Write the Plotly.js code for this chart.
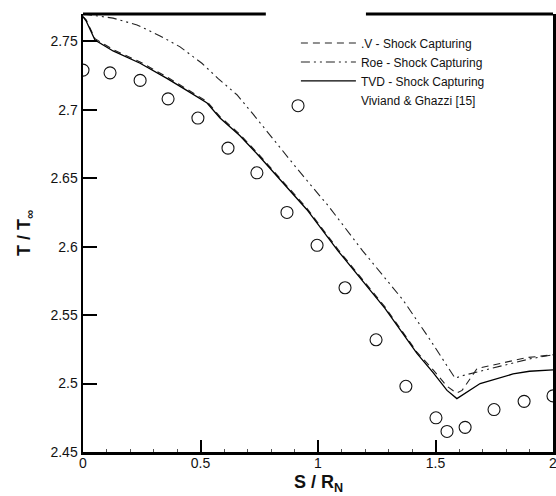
<!DOCTYPE html>
<html>
<head>
<meta charset="utf-8">
<script src="https://cdn.plot.ly/plotly-3.0.1.min.js"></script>
<style>html,body{margin:0;padding:0;background:#fff;}#chart{width:556px;height:496px;}</style>
</head>
<body>
<div id="chart"></div>
<script>
// Dashed series (legend text partly obscured in reference)
const dashX = [0, 0.013, 0.051, 0.128, 0.243, 0.357, 0.443, 0.528, 0.583, 0.668, 0.745, 0.847, 0.953, 1.085, 1.285, 1.421, 1.49, 1.549, 1.59, 1.613, 1.677, 1.81, 1.89, 2.0];
const dashY = [2.768, 2.766, 2.752, 2.744, 2.735, 2.724, 2.715, 2.706, 2.695, 2.682, 2.668, 2.648, 2.628, 2.598, 2.556, 2.523, 2.510, 2.498, 2.493, 2.495, 2.511, 2.516, 2.519, 2.521];
// Roe - Shock Capturing (dash-dot-dot)
const roeX = [0, 0.128, 0.23, 0.328, 0.413, 0.506, 0.574, 0.655, 0.723, 0.783, 0.847, 0.911, 0.979, 1.043, 1.19, 1.362, 1.477, 1.583, 1.62, 1.69, 1.8, 1.9, 2.0];
const roeY = [2.770, 2.767, 2.762, 2.754, 2.746, 2.734, 2.723, 2.711, 2.697, 2.684, 2.670, 2.657, 2.643, 2.630, 2.597, 2.561, 2.532, 2.504, 2.506, 2.509, 2.514, 2.518, 2.521];
// TVD - Shock Capturing (solid)
const tvdX = [0, 0.013, 0.051, 0.128, 0.243, 0.357, 0.443, 0.528, 0.583, 0.668, 0.745, 0.847, 0.953, 1.085, 1.285, 1.421, 1.49, 1.549, 1.591, 1.69, 1.83, 1.9, 2.0];
const tvdY = [2.768, 2.765, 2.751, 2.743, 2.734, 2.723, 2.714, 2.705, 2.694, 2.681, 2.667, 2.647, 2.627, 2.597, 2.555, 2.522, 2.508, 2.495, 2.489, 2.500, 2.507, 2.509, 2.510];
// Viviand & Ghazzi [15] (circles)
const vgX = [0, 0.115, 0.243, 0.362, 0.489, 0.617, 0.74, 0.868, 0.915, 0.996, 1.115, 1.247, 1.374, 1.502, 1.549, 1.626, 1.749, 1.877, 2.0];
const vgY = [2.729, 2.727, 2.7215, 2.708, 2.694, 2.672, 2.654, 2.625, 2.703, 2.601, 2.570, 2.532, 2.498, 2.475, 2.465, 2.468, 2.481, 2.487, 2.491];

const yTicks = [2.45, 2.5, 2.55, 2.6, 2.65, 2.7, 2.75];
const yTickText = ['2.45', '2.5', '2.55', '2.6', '2.65', '2.7', '2.75'];
const xTicks = [0, 0.5, 1, 1.5, 2];
const xTickText = ['0', '0.5', '1', '1.5', '2'];

const names = ['.V - Shock Capturing', 'Roe - Shock Capturing', 'TVD - Shock Capturing', 'Viviand & Ghazzi [15]'];

const circleStyle = {symbol: 'circle-open', size: 12, color: '#111', line: {width: 1.1, color: '#111'}};

const traces = [
  {x: dashX, y: dashY, name: names[0], mode: 'lines', line: {color: '#222', width: 1.1, dash: '7px,5px'}},
  {x: roeX, y: roeY, name: names[1], mode: 'lines', line: {color: '#222', width: 1.1, dash: '9px,4px,2px,4px,2px,4px'}},
  {x: tvdX, y: tvdY, name: names[2], mode: 'lines', line: {color: '#000', width: 1.3}},
  // legend entry for the circles (its symbol in the reference is the open circle left of the legend text)
  {x: [null], y: [null], name: names[3], mode: 'markers', legendgroup: 'vg', marker: {symbol: 'circle-open', size: 12, color: 'rgba(0,0,0,0)', line: {width: 0, color: 'rgba(0,0,0,0)'}}},
  {x: vgX, y: vgY, name: names[3], mode: 'markers', legendgroup: 'vg', showlegend: false, marker: circleStyle}
];

const font = {family: 'Liberation Sans, Arial, sans-serif', color: '#111'};

const layout = {
  width: 556, height: 496,
  margin: {l: 83, r: 3, t: 14, b: 44},
  paper_bgcolor: '#fff', plot_bgcolor: '#fff',
  font: font,
  showlegend: true,
  legend: {x: 0.453, y: 0.967, xanchor: 'left', yanchor: 'top', bgcolor: 'rgba(0,0,0,0)', itemwidth: 55,
           font: {family: font.family, size: 12, color: '#111'}, tracegroupgap: 0},
  xaxis: {range: [0, 2], tickvals: xTicks, ticktext: xTickText, ticks: 'inside', ticklen: 12, tickwidth: 2,
          tickcolor: '#000', showline: true, linecolor: '#000', linewidth: 2.5, showgrid: false, zeroline: false,
          ticklabeloverflow: 'allow', ticklabelstandoff: -3,
          tickfont: {family: font.family, size: 14, color: '#111'},
          minor: {dtick: 0.1, ticks: 'inside', ticklen: 3, tickwidth: 1, tickcolor: '#555', showgrid: false}},
  yaxis: {range: [2.45, 2.77], tickvals: yTicks, ticktext: yTickText, ticks: 'inside', ticklen: 14, tickwidth: 2,
          tickcolor: '#000', showline: true, mirror: true, linecolor: '#000', linewidth: 2.5, showgrid: false, zeroline: false,
          ticklabeloverflow: 'allow',
          tickfont: {family: font.family, size: 14, color: '#111'}},
  shapes: [
    {type: 'line', xref: 'paper', yref: 'paper', x0: 0, x1: 0.389, y0: 1, y1: 1, line: {color: '#000', width: 3}},
    {type: 'line', xref: 'paper', yref: 'paper', x0: 0.602, x1: 1, y0: 1, y1: 1, line: {color: '#000', width: 3}}
  ],
  annotations: [
    {text: '<b>S / R<sub>N</sub></b>', xref: 'paper', yref: 'paper', x: 0.5, y: 0, yshift: -31, xanchor: 'center', yanchor: 'middle',
     showarrow: false, font: {family: font.family, size: 18, color: '#111'}},
    {text: '<b>T / T<sub>∞</sub></b>', xref: 'paper', yref: 'paper', x: 0, xshift: -58, y: 0.5, xanchor: 'center', yanchor: 'middle',
     textangle: -90, showarrow: false, font: {family: font.family, size: 18, color: '#111'}}
  ]
};

Plotly.newPlot('chart', traces, layout, {displayModeBar: false, staticPlot: true});
</script>
</body>
</html>
